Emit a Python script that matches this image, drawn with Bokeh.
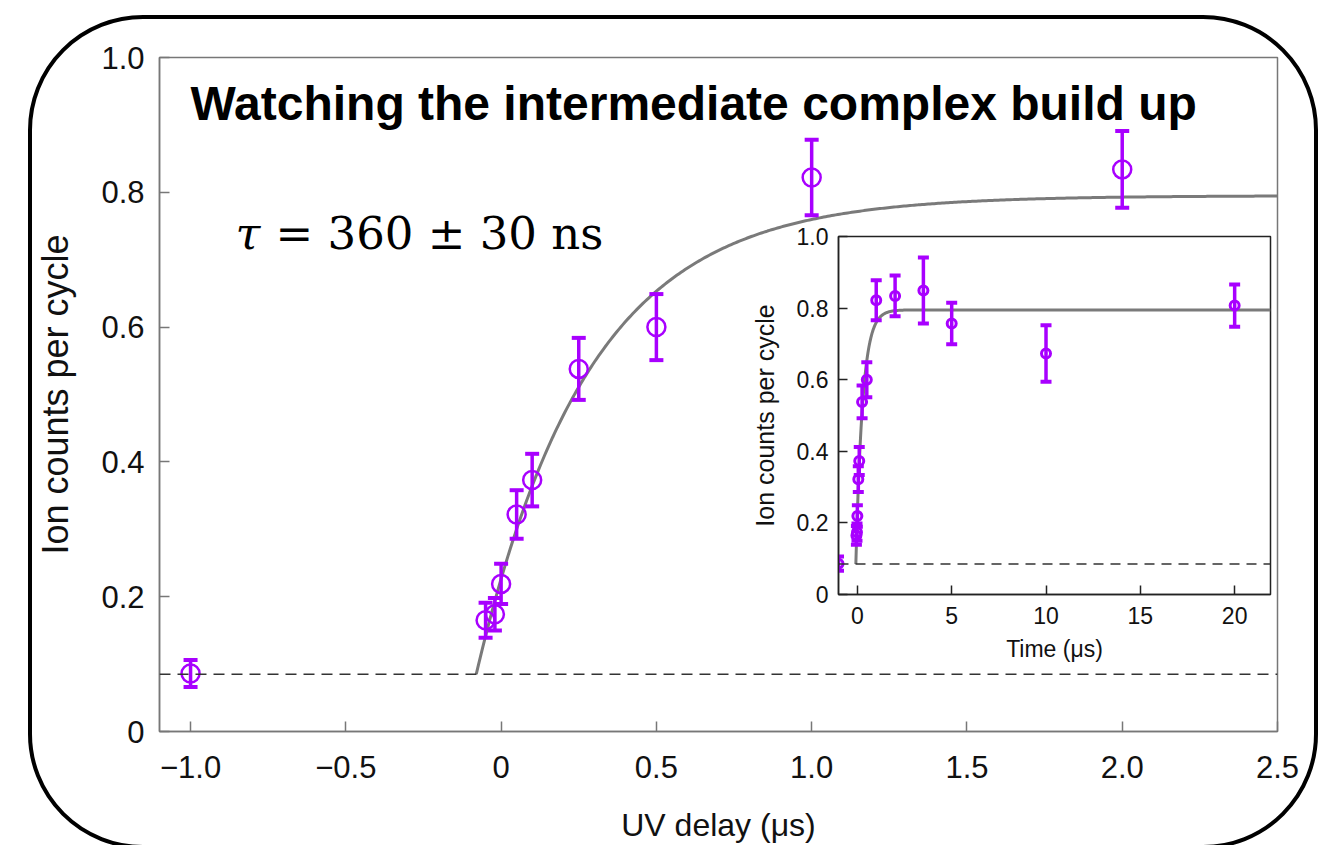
import numpy as np
from bokeh.plotting import figure
from bokeh.models import (Range1d, FixedTicker, CustomJSTickFormatter, Label, Span,
                          ColumnDataSource, Div)
from bokeh.layouts import column
from bokeh.embed import file_html
from bokeh.resources import INLINE

# ---------------- data ----------------
delay_us = [-1.0, -0.05, -0.02, 0.0, 0.05, 0.1, 0.25, 0.5, 1.0, 2.0, 3.5, 5.0, 10.0, 20.0]
ion_counts = [0.086, 0.165, 0.174, 0.219, 0.322, 0.373, 0.538, 0.600, 0.822, 0.834,
              0.849, 0.757, 0.673, 0.807]
ion_err = [0.020, 0.026, 0.024, 0.030, 0.036, 0.039, 0.046, 0.049, 0.056, 0.057,
           0.092, 0.058, 0.079, 0.059]

baseline_level = 0.085
fit_tau_us = 0.36
fit_plateau = 0.795
fit_onset_us = -0.08

main_xticks = [-1.0, -0.5, 0.0, 0.5, 1.0, 1.5, 2.0, 2.5]
main_xtick_labels = ["\u22121.0", "\u22120.5", "0", "0.5", "1.0", "1.5", "2.0", "2.5"]
yticks = [0.0, 0.2, 0.4, 0.6, 0.8, 1.0]
ytick_labels = ["0", "0.2", "0.4", "0.6", "0.8", "1.0"]
inset_xticks = [0, 5, 10, 15, 20]
inset_xtick_labels = ["0", "5", "10", "15", "20"]

title_text = "Watching the intermediate complex build up"
tau_symbol = "\u03c4"
tau_text = "= 360 \u00b1 30 ns"

FONT = "Liberation Sans"
PURPLE = "#a800ff"


def tick_formatter(vals, texts):
    return CustomJSTickFormatter(args=dict(tick_vals=vals, tick_texts=texts), code="""
        let best = 0, d = Infinity;
        for (let i = 0; i < tick_vals.length; i++) {
            const e = Math.abs(tick_vals[i] - tick);
            if (e < d) { d = e; best = i; }
        }
        return tick_texts[best];
    """)


def fit_curve(t):
    t = np.asarray(t)
    return fit_plateau - (fit_plateau - baseline_level) * np.exp(-(t - fit_onset_us) / fit_tau_us)


def style_axes(fig, xticks, xlabels, tick_px, xtitle_px, ytitle_px, x_title, y_title,
               tick_len, xstand, ystand, xtitle_stand, ytitle_stand, axis_color):
    fig.grid.visible = False
    for ax in (fig.xaxis[0], fig.yaxis[0]):
        ax.major_tick_in = tick_len
        ax.major_tick_out = 0
        ax.minor_tick_line_color = None
        ax.major_tick_line_color = axis_color
        ax.major_tick_line_width = 1.5
        ax.axis_line_color = axis_color
        ax.axis_line_width = 1.5
        ax.major_label_text_font = FONT
        ax.major_label_text_font_size = tick_px
        ax.major_label_text_color = "#111111"
        ax.axis_label_text_font = FONT
        ax.axis_label_text_font_style = "normal"
        ax.axis_label_text_color = "#111111"
    fig.xaxis[0].axis_label_text_font_size = xtitle_px
    fig.yaxis[0].axis_label_text_font_size = ytitle_px
    fig.xaxis[0].ticker = FixedTicker(ticks=xticks)
    fig.xaxis[0].formatter = tick_formatter(xticks, xlabels)
    fig.yaxis[0].ticker = FixedTicker(ticks=yticks)
    fig.yaxis[0].formatter = tick_formatter(yticks, ytick_labels)
    fig.xaxis[0].axis_label = x_title
    fig.yaxis[0].axis_label = y_title
    fig.xaxis[0].major_label_standoff = xstand
    fig.yaxis[0].major_label_standoff = ystand
    fig.xaxis[0].axis_label_standoff = xtitle_stand
    fig.yaxis[0].axis_label_standoff = ytitle_stand


# ---------------- main figure ----------------
p = figure(width=1323, height=845, x_range=Range1d(-1.1, 2.5), y_range=Range1d(0, 1.0),
           output_backend="svg", toolbar_location=None,
           min_border_left=159, min_border_right=46, min_border_top=57, min_border_bottom=113)
p.outline_line_color = "#777777"
p.outline_line_width = 1.5
p.border_fill_color = "white"
style_axes(p, main_xticks, main_xtick_labels, "31px", "32px", "36px", "UV delay (\u03bcs)",
           "Ion counts per cycle", 10, 24, 15, 26, 22, "#777777")

main_idx = [i for i, x in enumerate(delay_us) if x <= 2.5]
main_src = ColumnDataSource(dict(
    x=[delay_us[i] for i in main_idx],
    y=[ion_counts[i] for i in main_idx],
    lo=[ion_counts[i] - ion_err[i] for i in main_idx],
    hi=[ion_counts[i] + ion_err[i] for i in main_idx],
))

p.add_layout(Span(location=baseline_level, dimension="width", line_color="#333333",
                  line_width=1.5, line_dash="11 7"))
t_main = np.linspace(fit_onset_us, 2.5, 400)
p.line(t_main, fit_curve(t_main), line_color="#7a7a7a", line_width=3)
p.segment(x0="x", y0="lo", x1="x", y1="hi", source=main_src, line_color=PURPLE, line_width=3.5)
p.scatter(x="x", y="lo", source=main_src, marker="dash", size=14, line_color=PURPLE, line_width=4)
p.scatter(x="x", y="hi", source=main_src, marker="dash", size=14, line_color=PURPLE, line_width=4)
p.scatter(x="x", y="y", source=main_src, marker="circle", size=18, fill_alpha=0,
          line_color=PURPLE, line_width=2.5)

p.add_layout(Label(x=31, y=628, x_units="screen", y_units="screen", text=title_text,
                   text_font=FONT, text_font_style="bold", text_font_size="48px",
                   text_color="black", text_baseline="alphabetic"))
p.add_layout(Label(x=76, y=498, x_units="screen", y_units="screen", text=tau_symbol,
                   text_font="DejaVu Serif", text_font_style="italic", text_font_size="45px",
                   text_color="black", text_baseline="alphabetic"))
p.add_layout(Label(x=116, y=498, x_units="screen", y_units="screen", text=tau_text,
                   text_font="DejaVu Serif", text_font_size="45px",
                   text_color="black", text_baseline="alphabetic"))

# ---------------- inset ----------------
# (borders match the main plot's because the column aligns plot frames)
ins = figure(width=637, height=444, x_range=Range1d(-1.0, 21.9), y_range=Range1d(0, 1.0),
             output_backend="svg", toolbar_location=None,
             min_border_left=159, min_border_right=46, min_border_top=14, min_border_bottom=72)
ins.border_fill_alpha = 0
ins.background_fill_color = "white"
ins.outline_line_color = "#222222"
ins.outline_line_width = 1.5
style_axes(ins, inset_xticks, inset_xtick_labels, "23px", "23px", "25px", "Time (\u03bcs)",
           "Ion counts per cycle", 9, 12, 10, 9, 15, "#222222")

ins_src = ColumnDataSource(dict(
    x=delay_us, y=ion_counts,
    lo=[c - e for c, e in zip(ion_counts, ion_err)],
    hi=[c + e for c, e in zip(ion_counts, ion_err)],
))
ins.add_layout(Span(location=baseline_level, dimension="width", line_color="#333333",
                    line_width=1.5, line_dash="10 7"))
t_ins = np.linspace(fit_onset_us, 21.9, 800)
ins.line(t_ins, fit_curve(t_ins), line_color="#7a7a7a", line_width=3)
ins.segment(x0="x", y0="lo", x1="x", y1="hi", source=ins_src, line_color=PURPLE, line_width=3.5)
ins.scatter(x="x", y="lo", source=ins_src, marker="dash", size=11, line_color=PURPLE, line_width=4)
ins.scatter(x="x", y="hi", source=ins_src, marker="dash", size=11, line_color=PURPLE, line_width=4)
ins.scatter(x="x", y="y", source=ins_src, marker="circle", size=9, fill_alpha=0,
            line_color=PURPLE, line_width=3)

ins.styles = {"position": "absolute", "left": "679px", "top": "222px"}

# rounded outer frame drawn over everything
frame_box = Div(text="", width=1290, height=834,
                styles={"position": "absolute", "left": "23px", "top": "10px",
                        "width": "1290px", "height": "834px",
                        "box-sizing": "border-box", "border": "4.5px solid black",
                        "border-radius": "115px", "background": "transparent",
                        "pointer-events": "none"})

root = column(p, ins, frame_box, styles={"position": "relative"})

open("out.html", "w").write(file_html(root, INLINE))
